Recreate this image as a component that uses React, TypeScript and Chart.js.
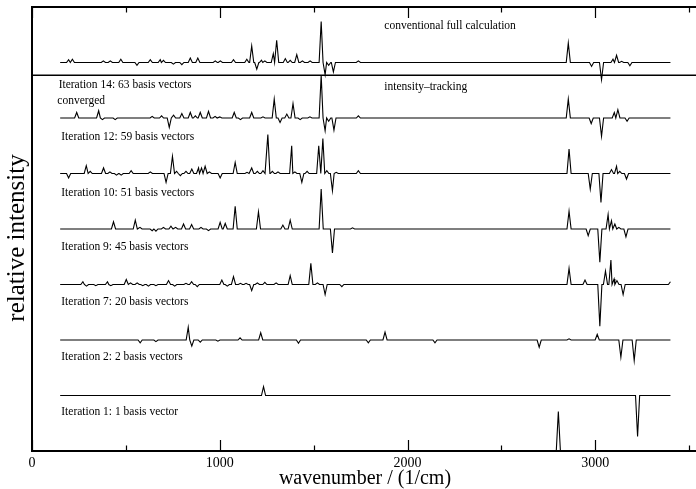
import React, { useEffect, useRef } from 'react';
import { Chart, registerables } from 'chart.js';

Chart.register(...registerables);

// ---------- axis data ----------
const X_MIN = 0;
const X_MAX = 3600;
const Y_MIN = 0;
const Y_MAX = 8;
const MAJOR_TICKS = [0, 1000, 2000, 3000];
const MINOR_TICKS = [500, 1500, 2500, 3500];
const TICK_LABELS = ['0', '1000', '2000', '3000'];
const X_TITLE = 'wavenumber / (1/cm)';
const Y_TITLE = 'relative intensity';

// spectral window of every trace (1/cm)
const SPECTRUM_START = 150;
const SPECTRUM_END = 3400;

// ---------- spectra: [wavenumber, relative intensity] ----------
const CONVENTIONAL: number[][] = [
  [195, 0.05], [215, 0.06], [380, 0.03], [417, 0.03], [473, 0.06], [559, -0.05], [630, 0.05],
  [683, 0.05], [700, 0.04], [753, -0.03], [798, -0.04], [843, 0.08], [883, 0.08], [976, 0.03],
  [1003, 0.03], [1073, 0.05], [1144, 0.06], [1170, 0.3], [1197, -0.12], [1222, 0.04], [1240, 0.03],
  [1285, 0.16], [1303, 0.4], [1349, 0.07], [1375, 0.04], [1410, 0.14], [1440, 0.03], [1481, 0.03],
  [1540, 0.74], [1561, -0.22], [1580, -0.05], [1605, -0.17], [1738, 0.03], [2856, 0.35],
  [2980, -0.07], [3033, -0.31], [3094, 0.06], [3113, 0.13], [3140, 0.02], [3184, -0.06],
];
const ITER14: number[][] = [
  [238, 0.1], [355, 0.13], [375, -0.03], [443, -0.03], [640, 0.03], [690, 0.04], [731, -0.17],
  [754, 0.05], [798, 0.08], [843, 0.1], [870, 0.04], [896, 0.1], [940, 0.12], [975, 0.03],
  [1000, 0.02], [1077, 0.1], [1110, -0.03], [1170, 0.1], [1230, 0.02], [1290, 0.34], [1321, -0.08],
  [1357, 0.07], [1390, 0.26], [1428, -0.03], [1480, 0.02], [1540, 0.77], [1561, -0.23], [1580, -0.06],
  [1608, -0.22], [1738, 0.04], [2856, 0.34], [2978, -0.1], [3033, -0.33], [3101, 0.1], [3120, 0.15],
  [3169, -0.06],
];
const ITER12: number[][] = [
  [195, -0.08], [289, 0.14], [310, 0.04], [381, 0.1], [415, 0.03], [450, -0.03], [475, -0.03],
  [528, 0.05], [630, 0.03], [714, -0.16], [748, 0.31], [770, 0.04], [790, -0.04], [820, 0.04],
  [851, 0.08], [887, 0.1], [903, 0.1], [922, 0.13], [945, 0.03], [1002, -0.08], [1082, 0.2],
  [1145, 0.02], [1170, 0.1], [1200, 0.04], [1230, 0.05], [1256, 0.7], [1280, 0.04], [1310, 0.03],
  [1383, 0.5], [1400, 0.03], [1437, -0.16], [1465, 0.04], [1527, 0.5], [1549, 0.63], [1570, 0.05],
  [1600, -0.31], [1620, 0.02], [1738, 0.05], [2860, 0.44], [2973, -0.28], [3030, -0.52],
  [3086, 0.07], [3113, 0.13], [3130, 0.04], [3166, -0.1],
];
const ITER10: number[][] = [
  [434, 0.13], [550, 0.16], [575, 0.03], [640, -0.03], [660, -0.04], [700, 0.03], [740, 0.05],
  [765, 0.03], [807, 0.09], [850, 0.08], [900, 0.03], [940, -0.03], [1002, 0.12], [1029, 0.1],
  [1082, 0.41], [1206, 0.31], [1336, 0.07], [1375, 0.16], [1540, 0.72], [1600, -0.43], [1707, 0.02],
  [2860, 0.32], [2962, -0.12], [3024, -0.6], [3068, 0.26], [3086, 0.15], [3104, 0.09], [3125, 0.03],
  [3163, -0.14],
];
const ITER9: number[][] = [
  [271, 0.05], [290, -0.03], [340, -0.02], [402, 0.05], [420, -0.02], [502, 0.09], [525, 0.03],
  [560, 0.03], [590, -0.02], [620, -0.03], [660, -0.02], [727, 0.07], [760, -0.03], [820, 0.02],
  [850, 0.05], [880, -0.04], [1011, 0.08], [1040, -0.03], [1073, 0.14], [1110, 0.02], [1140, 0.02],
  [1170, -0.11], [1200, 0.03], [1240, 0.04], [1300, 0.03], [1375, 0.16], [1485, 0.38], [1520, 0.03],
  [1561, -0.18], [1650, -0.04], [2860, 0.29], [2945, 0.08], [3024, -0.75], [3054, 0.24],
  [3083, 0.44], [3100, 0.1], [3115, 0.07], [3148, -0.18], [3400, 0.05],
];
const ITER7: number[][] = [
  [576, -0.05], [660, -0.03], [832, 0.23], [851, -0.11], [896, -0.04], [990, -0.02], [1108, 0.04],
  [1218, 0.13], [1419, -0.06], [1791, -0.05], [1880, 0.14], [2146, -0.05], [2701, -0.13],
  [2860, 0.02], [3010, 0.1], [3136, -0.31], [3207, -0.37],
];
const ITER2: number[][] = [[1233, 0.16], [3225, -0.74]];
const ITER1: number[][] = [[2803, 0.71]];

const SPECTRA = [CONVENTIONAL, ITER14, ITER12, ITER10, ITER9, ITER7, ITER2, ITER1];
const OFFSETS = [7, 6, 5, 4, 3, 2, 1, 0];
const SEPARATOR_LEVEL = 6.77;

// ---------- annotations: [text, wavenumber, level] ----------
const ANNOTATIONS: [string, number, number][] = [
  ['conventional full calculation', 1876, 7.65],
  ['intensity\u2013tracking', 1876, 6.55],
  ['Iteration 14: 63 basis vectors', 142, 6.59],
  ['converged', 135, 6.3],
  ['Iteration 12: 59 basis vectors', 156, 5.66],
  ['Iteration 10: 51 basis vectors', 156, 4.64],
  ['Iteration 9: 45 basis vectors', 156, 3.68],
  ['Iteration 7: 20 basis vectors', 156, 2.68],
  ['Iteration 2: 2 basis vectors', 156, 1.69],
  ['Iteration 1: 1 basis vector', 156, 0.7],
];

const PEAK_HALF_WIDTH = 11;
const SERIF = '"Liberation Serif", "Times New Roman", serif';

function buildSeries(peaks: number[][], offset: number) {
  const pts: { x: number; y: number }[] = [{ x: SPECTRUM_START, y: offset }];
  let prevX = SPECTRUM_START;
  for (let i = 0; i < peaks.length; i++) {
    const [p, h] = peaks[i];
    const next = peaks[i + 1];
    if (p - PEAK_HALF_WIDTH > prevX) pts.push({ x: p - PEAK_HALF_WIDTH, y: offset });
    pts.push({ x: p, y: offset + h });
    prevX = p;
    const right = p + PEAK_HALF_WIDTH;
    const limit = next ? next[0] - PEAK_HALF_WIDTH : SPECTRUM_END;
    if (right <= limit) {
      pts.push({ x: right, y: offset });
      prevX = right;
    }
  }
  if (prevX < SPECTRUM_END) pts.push({ x: SPECTRUM_END, y: offset });
  return pts;
}

const overlayPlugin = {
  id: 'overlay',
  afterDraw(chart: any) {
    const { ctx, chartArea: a, scales } = chart;
    const xs = scales.x;
    const ys = scales.y;
    ctx.save();
    ctx.strokeStyle = '#000';
    ctx.fillStyle = '#000';
    // frame
    ctx.lineWidth = 2;
    ctx.strokeRect(a.left, a.top, a.right - a.left, a.bottom - a.top);
    // inward ticks
    ctx.lineWidth = 1.2;
    ctx.beginPath();
    MAJOR_TICKS.forEach((v) => {
      const px = Math.round(xs.getPixelForValue(v)) + 0.5;
      ctx.moveTo(px, a.bottom); ctx.lineTo(px, a.bottom - 11);
      ctx.moveTo(px, a.top); ctx.lineTo(px, a.top + 11);
    });
    MINOR_TICKS.forEach((v) => {
      const px = Math.round(xs.getPixelForValue(v)) + 0.5;
      ctx.moveTo(px, a.bottom); ctx.lineTo(px, a.bottom - 5.5);
      ctx.moveTo(px, a.top); ctx.lineTo(px, a.top + 5.5);
    });
    ctx.stroke();
    // tick labels
    ctx.font = `14px ${SERIF}`;
    ctx.textAlign = 'center';
    ctx.textBaseline = 'middle';
    MAJOR_TICKS.forEach((v, i) => {
      ctx.fillText(TICK_LABELS[i], xs.getPixelForValue(v), a.bottom + 12);
    });
    // axis titles
    ctx.font = `20px ${SERIF}`;
    ctx.fillText(X_TITLE, 365, 478.5);
    ctx.save();
    ctx.translate(17, 238);
    ctx.rotate(-Math.PI / 2);
    ctx.font = `25px ${SERIF}`;
    ctx.fillText(Y_TITLE, 0, 0);
    ctx.restore();
    // annotations
    ctx.font = `11.5px ${SERIF}`;
    ctx.textAlign = 'left';
    ANNOTATIONS.forEach(([t, x, y]) => {
      ctx.fillText(t, xs.getPixelForValue(x), ys.getPixelForValue(y));
    });
    ctx.restore();
  },
};

export default function App() {
  const ref = useRef<HTMLCanvasElement>(null);
  useEffect(() => {
    const datasets: any[] = SPECTRA.map((s, i) => ({
      data: buildSeries(s, OFFSETS[i]),
      borderColor: '#000',
      borderWidth: 1.1,
      pointRadius: 0,
      tension: 0,
      fill: false,
    }));
    datasets.push({
      data: [
        { x: X_MIN, y: SEPARATOR_LEVEL },
        { x: X_MAX, y: SEPARATOR_LEVEL },
      ],
      borderColor: '#000',
      borderWidth: 1.5,
      pointRadius: 0,
      fill: false,
    });
    const chart = new Chart(ref.current as HTMLCanvasElement, {
      type: 'line',
      data: { datasets },
      options: {
        animation: false,
        responsive: false,
        devicePixelRatio: 1,
        events: [],
        layout: { padding: { left: 32, top: 7, right: 32, bottom: 0 } },
        plugins: { legend: { display: false }, tooltip: { enabled: false } },
        scales: {
          x: {
            type: 'linear',
            min: X_MIN,
            max: X_MAX,
            ticks: { display: false, stepSize: 500 },
            grid: { display: false },
            border: { display: false },
            afterFit: (s: any) => { s.height = 38; },
          },
          y: { type: 'linear', min: Y_MIN, max: Y_MAX, display: false },
        },
      } as any,
      plugins: [overlayPlugin],
    });
    return () => chart.destroy();
  }, []);
  return (
    <div style={{ position: 'fixed', left: 0, top: 0, width: 696, height: 489, overflow: 'hidden', background: '#fff' }}>
      <canvas ref={ref} width={740} height={489} style={{ display: 'block', width: 740, height: 489 }} />
    </div>
  );
}
